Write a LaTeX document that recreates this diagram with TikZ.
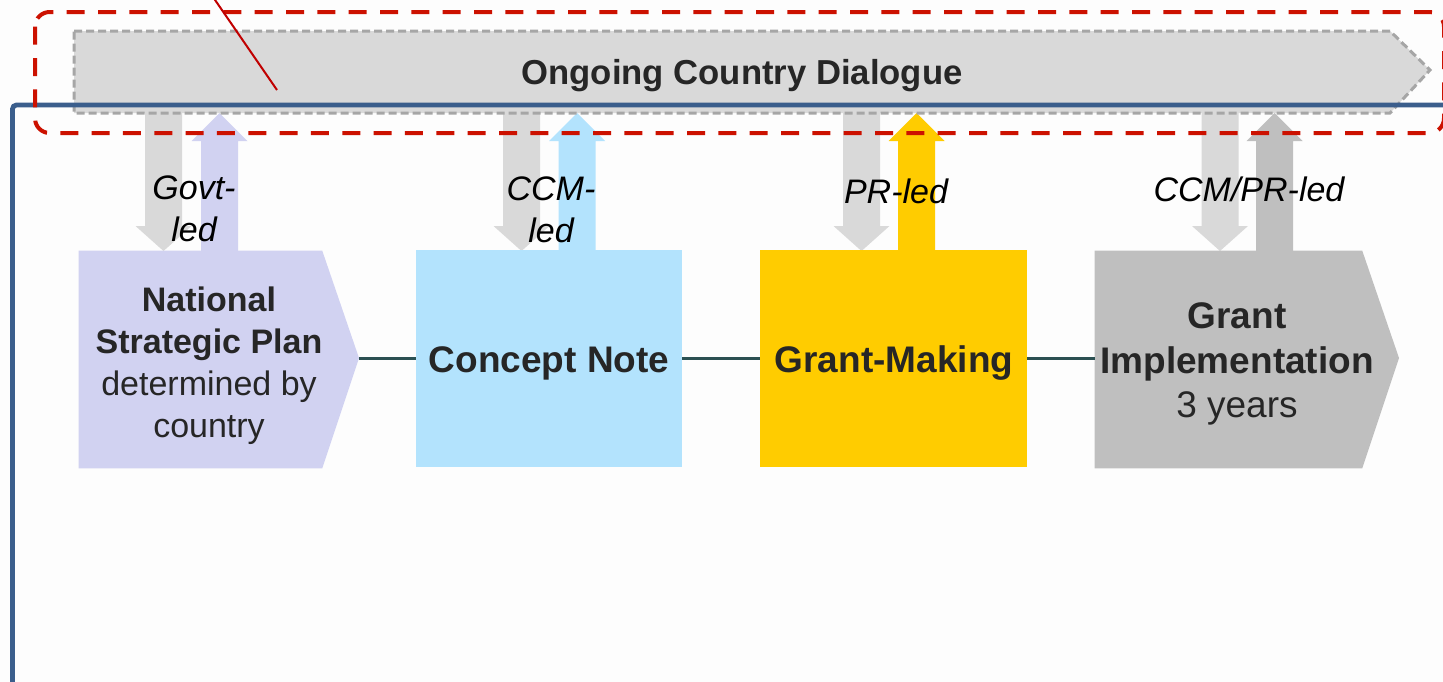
\documentclass[tikz,border=0pt]{standalone}
\usepackage{fontspec}
\setmainfont{Liberation Sans}
\definecolor{bgc}{HTML}{FDFDFD}
\definecolor{lav}{HTML}{D1D2F1}
\definecolor{skyb}{HTML}{B3E3FD}
\definecolor{gold}{HTML}{FFCC00}
\definecolor{gimp}{HTML}{BFBFBF}
\definecolor{downg}{HTML}{D9D9D9}
\definecolor{bannerfill}{HTML}{D9D9D9}
\definecolor{bannerline}{HTML}{A6A6A6}
\definecolor{framec}{HTML}{3B5E8C}
\definecolor{redc}{HTML}{CC1100}
\definecolor{redl}{HTML}{C00000}
\definecolor{connc}{HTML}{2B5052}
\definecolor{txt}{HTML}{262626}
\newcommand\downarr[2]{\fill[#2] (#1-18.5,113) -- (#1+18.5,113) -- (#1+18.5,226) -- (#1+28,226) -- (#1,251) -- (#1-28,226) -- (#1-18.5,226) -- cycle;}
\newcommand\uparr[2]{\fill[#2] (#1-18.5,251) -- (#1-18.5,141) -- (#1-28,141) -- (#1,113) -- (#1+28,141) -- (#1+18.5,141) -- (#1+18.5,251) -- cycle;}
\tikzset{
  boxstyle/.style={rectangle, inner sep=0pt, minimum height=162.75pt},
  boxtext/.style={text=txt, align=center, inner sep=0pt},
  ledlabel/.style={text=black, align=center, inner sep=0pt, font=\fontsize{25.5}{31.5}\selectfont\itshape},
  conn/.style={draw=connc, line width=2.25pt},
  banner/.style={fill=bannerfill, draw=bannerline, line width=2.25pt, dash pattern=on 6pt off 3pt},
  framestyle/.style={draw=framec, line width=3.6pt, rounded corners=3pt},
  reddash/.style={draw=redc, line width=3pt, dash pattern=on 13.5pt off 10pt, rounded corners=11pt},
  redline/.style={draw=redl, line width=1.5pt}
}
\begin{document}
\begin{tikzpicture}[x=0.75pt,y=-0.75pt]
\fill[bgc] (0,0) rectangle (1443,682);
\useasboundingbox (0,0) rectangle (1443,682);
% up/down arrows
\downarr{163.5}{downg}
\uparr{219.5}{lav}
\downarr{521.5}{downg}
\uparr{577}{skyb}
\downarr{861.5}{downg}
\uparr{916.5}{gold}
\downarr{1220}{downg}
\uparr{1274.5}{gimp}
% banner
\draw[banner] (74,31) -- (1390,31) -- (1430,70) -- (1390,113) -- (74,113) -- cycle;
\node[text=txt, inner sep=0pt, font=\fontsize{26}{31}\selectfont\bfseries] (dialogue) at (742,76) {Ongoing Country Dialogue};
% frame
\draw[framestyle] (1450,105) -- (12.5,105) -- (12.5,690);
% boxes
\node[boxstyle, minimum width=182.25pt] (nsp) at (200.5,359.5) {};
\coordinate (nsptip) at (359,358);
\fill[lav] (nsp.north west) -- (nsp.north east) -- (nsptip) -- (nsp.south east) -- (nsp.south west) -- cycle;
\node[boxstyle, fill=skyb, minimum width=199.5pt] (cn) at (549,358.5) {};
\node[boxstyle, fill=gold, minimum width=200.25pt] (gm) at (893.5,358.5) {};
\node[boxstyle, minimum width=200.25pt] (gi) at (1228.5,359.5) {};
\coordinate (gitip) at (1399,358);
\fill[gimp] (gi.north west) -- (gi.north east) -- (gitip) -- (gi.south east) -- (gi.south west) -- cycle;
% connectors
\draw[conn] (nsptip) -- (cn.west |- nsptip);
\draw[conn] (cn.east |- nsptip) -- (gm.west |- nsptip);
\draw[conn] (gm.east |- nsptip) -- (gi.west |- nsptip);
% box texts
\node[boxtext, font=\fontsize{25.5}{31.5}\selectfont] (nsptext) at (209,366) {\textbf{National}\\\textbf{Strategic Plan}\\determined by\\country};
\node[boxtext, font=\fontsize{27.75}{33}\selectfont\bfseries] (cntext) at (549,363) {Concept Note};
\node[boxtext, font=\fontsize{27.75}{33}\selectfont\bfseries] (gmtext) at (894,363) {Grant-Making};
\node[boxtext, font=\fontsize{27.75}{33.4}\selectfont] (gitext) at (1237,364) {\textbf{Grant}\\\textbf{Implementation}\\3 years};
% led labels
\node[ledlabel] (govt) at (194,209) {Govt-\\led};
\node[ledlabel] (ccm) at (551,210) {CCM-\\led};
\node[ledlabel] (pr) at (896,191) {PR-led};
\node[ledlabel] (ccmpr) at (1249,189) {CCM/PR-led};
% red highlight
\draw[reddash] (35,12) rectangle (1444,133);
\coordinate (redstart) at (213,-3);
\coordinate (redend) at (277,90);
\draw[redline] (redstart) -- (redend);
\end{tikzpicture}
\end{document}
